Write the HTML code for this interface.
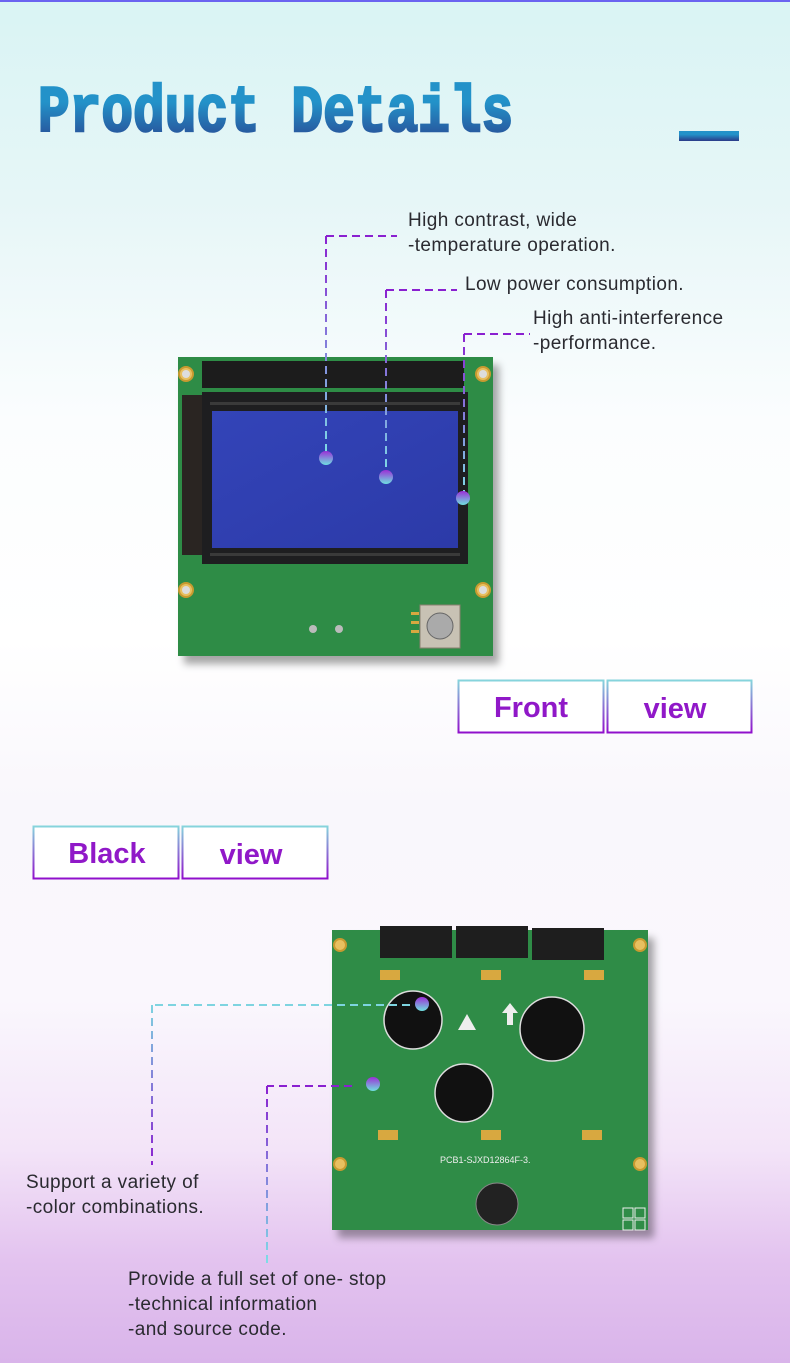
<!DOCTYPE html>
<html><head><meta charset="utf-8"><style>
html,body{margin:0;padding:0}
body{width:790px;height:1363px;overflow:hidden;position:relative;font-family:"Liberation Sans",sans-serif;
background:linear-gradient(180deg,#d9f4f4 0px,#e6f6f7 200px,#fbfdfe 420px,#ffffff 640px,#f9f7fc 800px,#faf7fd 1000px,#f3e4f8 1150px,#e3c3ef 1260px,#d9b4ea 1363px);}
.t{position:absolute;font-size:19px;letter-spacing:0.4px;color:#2a2a30;line-height:25px;white-space:nowrap}
</style></head><body>
<div style="position:absolute;left:0;top:0;width:790px;height:2px;background:#6a63f0"></div>
<svg width="790" height="1363" style="position:absolute;left:0;top:0">
<defs>
<linearGradient id="tg" x1="0" y1="0" x2="0" y2="1"><stop offset="0.35" stop-color="#2392c9"/><stop offset="1" stop-color="#2a3a88"/></linearGradient>
<linearGradient id="dot" x1="0" y1="0" x2="0" y2="1"><stop offset="0" stop-color="#9b2fd6"/><stop offset="1" stop-color="#6fe0e0"/></linearGradient>
<linearGradient id="g1" gradientUnits="userSpaceOnUse" x1="0" y1="236" x2="0" y2="458"><stop offset="0" stop-color="#8a20d0"/><stop offset="1" stop-color="#7ee0e6"/></linearGradient>
<linearGradient id="g2" gradientUnits="userSpaceOnUse" x1="0" y1="290" x2="0" y2="477"><stop offset="0" stop-color="#8a20d0"/><stop offset="1" stop-color="#7ee0e6"/></linearGradient>
<linearGradient id="g3" gradientUnits="userSpaceOnUse" x1="0" y1="334" x2="0" y2="498"><stop offset="0" stop-color="#8a20d0"/><stop offset="1" stop-color="#7ee0e6"/></linearGradient>
<linearGradient id="g4" gradientUnits="userSpaceOnUse" x1="0" y1="1005" x2="0" y2="1165"><stop offset="0" stop-color="#7ed4e0"/><stop offset="1" stop-color="#8a20d0"/></linearGradient>
<linearGradient id="g5" gradientUnits="userSpaceOnUse" x1="0" y1="1086" x2="0" y2="1265"><stop offset="0" stop-color="#8a20d0"/><stop offset="1" stop-color="#7ee0e6"/></linearGradient>
<linearGradient id="box" x1="0" y1="0" x2="0" y2="1"><stop offset="0" stop-color="#86d4dc"/><stop offset="1" stop-color="#9010cc"/></linearGradient>
<linearGradient id="lcd" x1="0" y1="0" x2="1" y2="1"><stop offset="0" stop-color="#3344b8"/><stop offset="1" stop-color="#2c3aa8"/></linearGradient>
<filter id="sh" x="-10%" y="-10%" width="130%" height="130%"><feDropShadow dx="6" dy="8" stdDeviation="4" flood-color="#000" flood-opacity="0.35"/></filter>
</defs>
<text x="38" y="131" font-family="Liberation Mono" font-weight="bold" font-size="66" fill="url(#tg)" stroke="url(#tg)" stroke-width="2.5" transform="translate(38 0) scale(0.8 1) translate(-38 0)">Product Details</text>
<rect x="679" y="131" width="60" height="10" fill="url(#tg)"/>

<!-- Front board -->
<g filter="url(#sh)"><rect x="178" y="357" width="315" height="299" fill="#2f8a45"/></g>
<rect x="178" y="357" width="315" height="299" fill="#2e8c46"/>
<rect x="202" y="361" width="262" height="27" fill="#1c1c1c"/>
<rect x="182" y="395" width="22" height="160" fill="#2a2522"/>
<rect x="202" y="392" width="266" height="172" fill="#1e1e20"/>
<rect x="210" y="402" width="250" height="3" fill="#3a3a3a"/>
<rect x="212" y="411" width="246" height="137" fill="url(#lcd)"/>
<rect x="210" y="553" width="250" height="3" fill="#3a3a3a"/>
<g fill="#e8c060" stroke="#c89a30" stroke-width="2"><circle cx="186" cy="374" r="7"/><circle cx="483" cy="374" r="7"/><circle cx="186" cy="590" r="7"/><circle cx="483" cy="590" r="7"/></g>
<g fill="#ddd"><circle cx="186" cy="374" r="4"/><circle cx="483" cy="374" r="4"/><circle cx="186" cy="590" r="4"/><circle cx="483" cy="590" r="4"/></g>
<circle cx="313" cy="629" r="4" fill="#bbb"/><circle cx="339" cy="629" r="4" fill="#bbb"/>
<rect x="420" y="605" width="40" height="43" fill="#c8c2b4" stroke="#8a8070"/>
<circle cx="440" cy="626" r="13" fill="#aaa" stroke="#666"/>
<g fill="#d8a840"><rect x="411" y="612" width="8" height="3"/><rect x="411" y="621" width="8" height="3"/><rect x="411" y="630" width="8" height="3"/></g>

<!-- Front callouts -->
<g stroke-width="2" stroke-dasharray="8 5" fill="none">
<path d="M326 236 V458" stroke="url(#g1)"/>
<path d="M326 236 H397" stroke="#8a20d0"/>
<path d="M386 290 V477" stroke="url(#g2)"/>
<path d="M386 290 H457" stroke="#8a20d0"/>
<path d="M464 334 V498" stroke="url(#g3)"/>
<path d="M464 334 H530" stroke="#8a20d0"/>
</g>
<circle cx="326" cy="458" r="7" fill="url(#dot)"/>
<circle cx="386" cy="477" r="7" fill="url(#dot)"/>
<circle cx="463" cy="498" r="7" fill="url(#dot)"/>

<!-- Front view box -->
<rect x="458.5" y="680.5" width="145" height="52" fill="#fff" stroke="url(#box)" stroke-width="2"/>
<rect x="607.5" y="680.5" width="144" height="52" fill="#fff" stroke="url(#box)" stroke-width="2"/>
<text x="531" y="717" text-anchor="middle" font-size="29" font-weight="bold" fill="#9018c8" font-family="Liberation Sans">Front</text>
<text x="675" y="718" text-anchor="middle" font-size="29" font-weight="bold" fill="#9018c8" font-family="Liberation Sans">view</text>

<!-- Black view box -->
<rect x="33.5" y="826.5" width="145" height="52" fill="#fff" stroke="url(#box)" stroke-width="2"/>
<rect x="182.5" y="826.5" width="145" height="52" fill="#fff" stroke="url(#box)" stroke-width="2"/>
<text x="107" y="863" text-anchor="middle" font-size="29" font-weight="bold" fill="#9018c8" font-family="Liberation Sans">Black</text>
<text x="251" y="864" text-anchor="middle" font-size="29" font-weight="bold" fill="#9018c8" font-family="Liberation Sans">view</text>

<!-- Back board -->
<g filter="url(#sh)"><rect x="332" y="930" width="316" height="300" fill="#2f8a45"/></g>
<rect x="332" y="930" width="316" height="300" fill="#2f8c47"/>
<g fill="#1e1e1e"><rect x="380" y="926" width="72" height="32"/><rect x="456" y="926" width="72" height="32"/><rect x="532" y="928" width="72" height="32"/></g>
<circle cx="413" cy="1020" r="29" fill="#111" stroke="#ddd" stroke-width="1.5"/>
<circle cx="552" cy="1029" r="32" fill="#111" stroke="#ddd" stroke-width="1.5"/>
<circle cx="464" cy="1093" r="29" fill="#111" stroke="#ddd" stroke-width="1.5"/>
<circle cx="497" cy="1204" r="21" fill="#222" stroke="#888"/>
<polygon points="510,1003 502,1013 507,1013 507,1025 513,1025 513,1013 518,1013" fill="#eee"/>
<polygon points="467,1014 458,1030 476,1030" fill="#eee"/>
<g fill="#d8a840"><rect x="380" y="970" width="20" height="10"/><rect x="481" y="970" width="20" height="10"/><rect x="584" y="970" width="20" height="10"/><rect x="378" y="1130" width="20" height="10"/><rect x="481" y="1130" width="20" height="10"/><rect x="582" y="1130" width="20" height="10"/></g>
<g fill="#e8c060" stroke="#c89a30" stroke-width="2"><circle cx="340" cy="945" r="6"/><circle cx="640" cy="945" r="6"/><circle cx="340" cy="1164" r="6"/><circle cx="640" cy="1164" r="6"/></g>
<text x="440" y="1163" font-size="9" fill="#eee" font-family="Liberation Sans">PCB1-SJXD12864F-3.</text>
<g fill="none" stroke="#eee"><rect x="623" y="1208" width="10" height="10"/><rect x="635" y="1208" width="10" height="10"/><rect x="623" y="1220" width="10" height="10"/><rect x="635" y="1220" width="10" height="10"/></g>

<!-- Back callouts -->
<g stroke-width="2" stroke-dasharray="8 5" fill="none">
<path d="M410 1005 H152" stroke="#7ed4e0"/>
<path d="M152 1005 V1165" stroke="url(#g4)"/>
<path d="M352 1086 H267" stroke="#8a20d0"/>
<path d="M267 1086 V1265" stroke="url(#g5)"/>
</g>
<circle cx="422" cy="1004" r="7" fill="url(#dot)"/>
<circle cx="373" cy="1084" r="7" fill="url(#dot)"/>
</svg>
<div class="t" style="left:408px;top:208px">High contrast, wide<br>-temperature operation.</div>
<div class="t" style="left:465px;top:272px">Low power consumption.</div>
<div class="t" style="left:533px;top:306px">High anti-interference<br>-performance.</div>
<div class="t" style="left:26px;top:1170px">Support a variety of<br>-color combinations.</div>
<div class="t" style="left:128px;top:1267px">Provide a full set of one- stop<br>-technical information<br>-and source code.</div>
</body></html>
